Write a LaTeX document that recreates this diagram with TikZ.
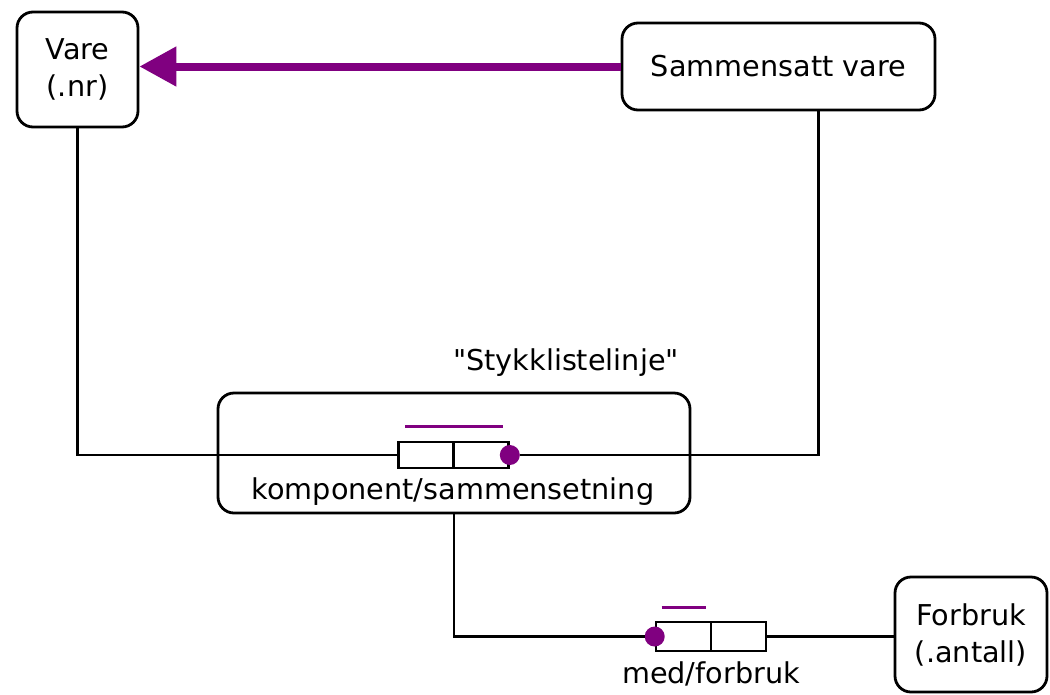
\documentclass[tikz,border=0pt]{standalone}
\usepackage{fontspec}
\setmainfont{DejaVu Sans}[Ligatures=TeXOff]
\usepackage{tikz}
\usetikzlibrary{calc}
\usetikzlibrary{arrows.meta}
\usetikzlibrary{positioning}
\definecolor{ormpurple}{RGB}{128,0,128}
\tikzset{>=latex}
\tikzstyle{entity} = [rectangle, draw=black, line width=2.8pt, rounded corners=16pt, align=center, inner sep=0pt]
\tikzstyle{rolecell} = [rectangle, draw=black, line width=2.6pt, fill=white, inner sep=0pt]
\tikzstyle{link} = [-, draw=black, line width=2.8pt]
\tikzstyle{uniq} = [-, draw=ormpurple, line width=3.5pt]
\tikzstyle{mand} = [circle, fill=ormpurple, minimum size=20pt, inner sep=0pt]

\begin{document}
\begin{tikzpicture}[x=1pt, y=-1pt, font=\fontsize{28.7}{37}\selectfont]
\useasboundingbox (0,0) rectangle (1050,694);
\node [entity, minimum width=121pt, minimum height=115pt] (vare) at (77.5, 69.5) {Vare\\(.nr)};
\node [entity, minimum width=313pt, minimum height=87pt] (sammensatt) at (778.5, 66.5) {Sammensatt vare};
\node [entity, minimum width=472pt, minimum height=120pt] (stykk) at (454, 453) {};
\node [entity, minimum width=152pt, minimum height=115pt] (forbruk) at (971, 634.5) {Forbruk\\(.antall)};
\node (stykklabel) at (566, 363) {"Stykklistelinje"};
\node (kompsamlabel) at (453, 492) {komponent/sammensetning};
\node (medlabel) at (711, 674) {med/forbruk};
% roller
\node [rolecell, minimum width=55pt, minimum height=26pt] (komp1) at (426, 455) {};
\node [rolecell, minimum width=55pt, minimum height=26pt] (komp2) at (481, 455) {};
\node [rolecell, minimum width=55pt, minimum height=29pt] (med1) at (683.5, 636.5) {};
\node [rolecell, minimum width=55pt, minimum height=29pt] (med2) at (738.5, 636.5) {};
\node [mand] (dotA) at (komp2.east) {};
\node [mand] (dotB) at (med1.west) {};
\draw [link] (vare.south) |- (komp1.west);
\draw [link] ([xshift=40pt]sammensatt.south) |- (dotA.east);
\draw [link] (stykk.south) |- (dotB.west);
\draw [link] (med2.east) -- (med2.east -| forbruk.west);
\draw [uniq] ($(komp1.north west)+(8,-14)$) -- ($(komp2.north east)+(-7,-14)$);
\draw [uniq] ($(med1.north west)+(7,-13)$) -- ($(med1.north east)+(-6,-13)$);
\draw [-{Triangle[length=37pt, width=38pt]}, draw=ormpurple, fill=ormpurple, line width=8pt] (sammensatt.west) -- (sammensatt.west -| vare.east);
\end{tikzpicture}
\end{document}
